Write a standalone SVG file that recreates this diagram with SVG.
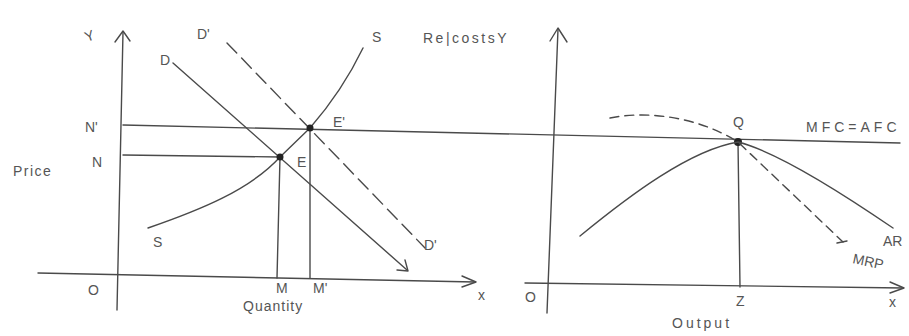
<svg xmlns="http://www.w3.org/2000/svg" width="909" height="336" viewBox="0 0 909 336">
<style>
.ln{stroke:#4a4a4a;stroke-width:1.4;fill:none;stroke-linecap:round;stroke-linejoin:round}
.dash{stroke-dasharray:14 7}
.dash2{stroke-dasharray:9 6}
.t{font-family:"Liberation Sans",Arial,sans-serif;fill:#555;font-size:14px}
.dot{fill:#222}
</style>
<rect width="909" height="336" fill="#fff"/>
<g id="left-axes">
<path class="ln" d="M123,32 L117,310"/>
<path class="ln" d="M115,42 L123,31 L130,41"/>
<path class="ln" d="M38,273 L475,282"/>
<path class="ln" d="M462,276 L476,282 L462,287"/>
<text class="t" x="84" y="40" transform="rotate(-20 91 33)" font-size="18">Y</text>
<text class="t" x="478" y="300">x</text>
<text class="t" x="88" y="295">O</text>
</g>
<g id="price-lines">
<path class="ln" d="M123,125 L900,143"/>
<path class="ln" d="M123,155 L280,157"/>
<path class="ln" d="M280,157 L277,278"/>
<path class="ln" d="M310,128 L310,278"/>
<text class="t" x="85" y="132">N'</text>
<text class="t" x="92" y="167" font-size="11">N</text>
<text class="t" x="13" y="176" font-size="15" letter-spacing="1.5">Price</text>
<text class="t" x="276" y="293" font-size="12">M</text>
<text class="t" x="313" y="293" font-size="12">M'</text>
<text class="t" x="243" y="311" letter-spacing="1">Quantity</text>
</g>
<g id="demand-D">
<path class="ln" d="M173,63 L407,270"/>
<path class="ln" d="M397,270 L408,271 L405,260"/>
<text class="t" x="160" y="65" font-size="16">D</text>
</g>
<g id="demand-D2">
<path class="ln dash" d="M227,43 L425,248"/>
<text class="t" x="197" y="39" font-size="17">D'</text>
<text class="t" x="424" y="250" font-size="16">D'</text>
</g>
<g id="supply-S">
<path class="ln" d="M148,228 C200,210 250,190 280,157 L310,128 C330,105 350,75 363,48"/>
<text class="t" x="372" y="42">S</text>
<text class="t" x="153" y="247" font-size="13">S</text>
</g>
<g id="E">
<circle class="dot" cx="280" cy="157" r="3.5"/>
<text class="t" x="297" y="167" font-size="13">E</text>
</g>
<g id="E2">
<circle class="dot" cx="310" cy="128" r="3.5"/>
<text class="t" x="333" y="127" font-size="13">E'</text>
</g>
<g id="right-axes">
<path class="ln" d="M558,29 L547,313"/>
<path class="ln" d="M550,41 L558,28 L567,42"/>
<path class="ln" d="M525,283 L903,288"/>
<path class="ln" d="M890,282 L904,288 L890,293"/>
<text class="t" x="423" y="43" font-size="15" letter-spacing="2.5">Re|costsY</text>
<text class="t" x="525" y="302" font-size="13">O</text>
<text class="t" x="889" y="307">x</text>
<text class="t" x="736" y="306" font-size="13">Z</text>
<text class="t" x="672" y="328" letter-spacing="3">Output</text>
</g>
<g id="Q">
<path class="ln" d="M738,142 L740,287"/>
<circle class="dot" cx="738" cy="142" r="4"/>
<text class="t" x="733" y="127" font-size="13">Q</text>
<text class="t" x="806" y="132" font-size="12" letter-spacing="4">MFC=AFC</text>
</g>
<g id="AR">
<path class="ln" d="M580,236 C630,195 690,150 738,142 C770,150 820,178 893,228"/>
<text class="t" x="883" y="246" font-size="12">AR</text>
</g>
<g id="MRP">
<path class="ln dash2" d="M610,118 C650,110 700,118 738,142 L843,242"/>
<path class="ln" d="M837,243 L847,241"/>
<text class="t" x="852" y="263" font-size="12" transform="rotate(12 852 263)">MRP</text>
</g>
</svg>
